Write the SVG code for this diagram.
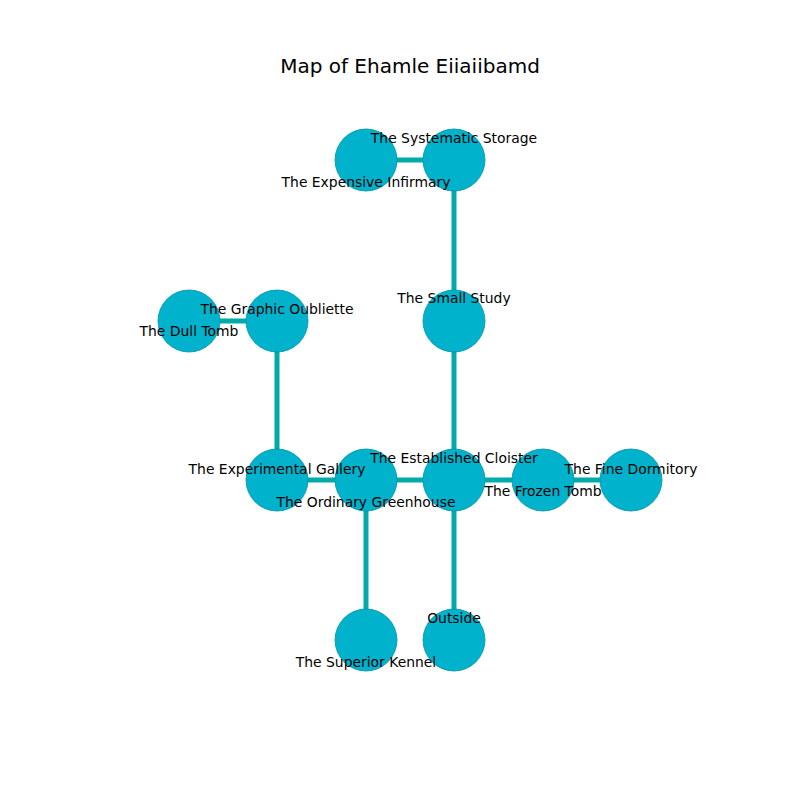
<svg xmlns="http://www.w3.org/2000/svg" width="800" height="800" viewBox="0 0 800 800">
<style>
.e{stroke:#00aaaa;stroke-width:5;fill:none}
.n{fill:#00b2cc;stroke:#0092a8;stroke-width:0.8}
.l{font-family:"DejaVu Sans",sans-serif;font-size:13.9px;fill:#000;text-anchor:middle}
.t{font-family:"DejaVu Sans",sans-serif;font-size:20px;fill:#000;text-anchor:middle}
</style>
<rect width="800" height="800" fill="#fff"/>
<text class="t" x="410" y="73">Map of Ehamle Eiiaiibamd</text>
<g id="connectors">
<line class="e" x1="366" y1="160" x2="454" y2="160"/>
<line class="e" x1="454" y1="160" x2="454" y2="321"/>
<line class="e" x1="454" y1="321" x2="454" y2="480"/>
<line class="e" x1="189" y1="321" x2="277" y2="321"/>
<line class="e" x1="277" y1="321" x2="277" y2="480"/>
<line class="e" x1="277" y1="480" x2="631" y2="480"/>
<line class="e" x1="366" y1="480" x2="366" y2="640"/>
<line class="e" x1="454" y1="480" x2="454" y2="640"/>
</g>
<g id="expensive-infirmary"><circle class="n" cx="366" cy="160" r="31"/></g>
<g id="systematic-storage"><circle class="n" cx="454" cy="160" r="31"/></g>
<g id="small-study"><circle class="n" cx="454" cy="321" r="31"/></g>
<g id="dull-tomb"><circle class="n" cx="189" cy="321" r="31"/></g>
<g id="graphic-oubliette"><circle class="n" cx="277" cy="321" r="31"/></g>
<g id="experimental-gallery"><circle class="n" cx="277" cy="480" r="31"/></g>
<g id="ordinary-greenhouse"><circle class="n" cx="366" cy="480" r="31"/></g>
<g id="established-cloister"><circle class="n" cx="454" cy="480" r="31"/></g>
<g id="frozen-tomb"><circle class="n" cx="543" cy="480" r="31"/></g>
<g id="fine-dormitory"><circle class="n" cx="631" cy="480" r="31"/></g>
<g id="superior-kennel"><circle class="n" cx="366" cy="640" r="31"/></g>
<g id="outside"><circle class="n" cx="454" cy="640" r="31"/></g>
<g id="labels">
<text class="l" x="454" y="143">The Systematic Storage</text>
<text class="l" x="366" y="187">The Expensive Infirmary</text>
<text class="l" x="454" y="303">The Small Study</text>
<text class="l" x="277" y="314">The Graphic Oubliette</text>
<text class="l" x="189" y="336">The Dull Tomb</text>
<text class="l" x="277" y="474">The Experimental Gallery</text>
<text class="l" x="366" y="507">The Ordinary Greenhouse</text>
<text class="l" x="454" y="463">The Established Cloister</text>
<text class="l" x="543" y="496">The Frozen Tomb</text>
<text class="l" x="631" y="474">The Fine Dormitory</text>
<text class="l" x="454" y="623">Outside</text>
<text class="l" x="366" y="667">The Superior Kennel</text>
</g>
</svg>
